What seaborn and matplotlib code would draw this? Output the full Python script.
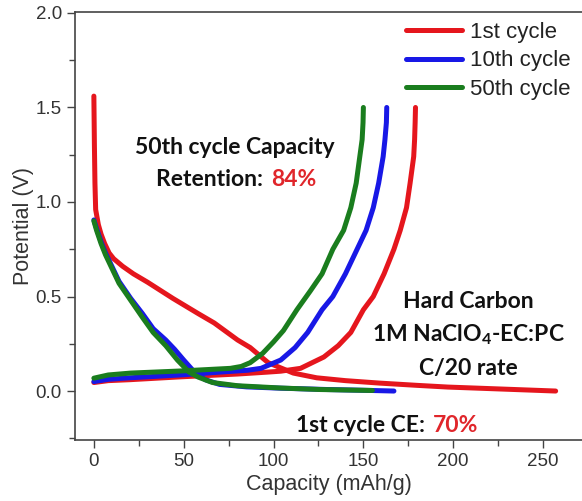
import matplotlib
matplotlib.use("Agg")
import matplotlib.pyplot as plt
from matplotlib.ticker import MultipleLocator, FormatStrFormatter
import seaborn as sns
import pandas as pd

# ---- data ----
cycles = ["1st cycle", "10th cycle", "50th cycle"]

red_dis_x = [0, 0.3, 0.6, 1, 2.5, 4, 6, 8.5, 11, 16, 22, 30, 44, 58, 67, 80, 87, 97, 111, 124, 140, 159, 180, 197, 220, 240, 257]
red_dis_y = [1.56, 1.30, 1.10, 0.96, 0.88, 0.83, 0.78, 0.73, 0.70, 0.66, 0.62, 0.575, 0.49, 0.41, 0.36, 0.27, 0.23, 0.15, 0.095, 0.07, 0.055, 0.042, 0.030, 0.021, 0.013, 0.006, 0.0]
red_chg_x = [0, 8, 20, 48, 80, 96.5, 104, 115, 128, 136, 143, 150, 155.5, 161.5, 167, 170.5, 174, 176, 178, 178.5, 178.8, 179]
red_chg_y = [0.045, 0.055, 0.06, 0.075, 0.09, 0.10, 0.105, 0.12, 0.18, 0.24, 0.31, 0.43, 0.50, 0.62, 0.75, 0.85, 0.97, 1.10, 1.24, 1.33, 1.42, 1.50]

blue_dis_x = [0, 1.5, 4, 6.5, 9.5, 14, 20.5, 27, 33, 40, 45, 50, 56, 62, 70, 85, 104, 130, 150, 167]
blue_dis_y = [0.905, 0.86, 0.79, 0.73, 0.67, 0.58, 0.49, 0.41, 0.33, 0.27, 0.22, 0.164, 0.10, 0.06, 0.035, 0.022, 0.015, 0.008, 0.004, 0.0]
blue_chg_x = [0, 8, 20, 48, 70, 85.5, 93, 98, 104, 112, 119, 127, 133, 140, 146.5, 151.5, 155.5, 158.5, 161, 162, 162.8, 163]
blue_chg_y = [0.05, 0.062, 0.07, 0.085, 0.10, 0.11, 0.12, 0.14, 0.164, 0.23, 0.31, 0.43, 0.50, 0.62, 0.75, 0.85, 0.97, 1.10, 1.24, 1.33, 1.42, 1.50]

green_dis_x = [0, 1.5, 4, 6.5, 9.5, 14, 20.5, 27, 33, 40, 46.5, 53, 58, 66, 80, 104, 126, 155]
green_dis_y = [0.90, 0.85, 0.78, 0.72, 0.66, 0.57, 0.48, 0.39, 0.31, 0.24, 0.164, 0.10, 0.074, 0.045, 0.028, 0.016, 0.008, 0.003]
green_chg_x = [0, 8, 20.5, 48, 76, 82, 87, 94, 100, 105.5, 113, 120.5, 127, 133, 139, 143, 146, 148, 149.3, 149.8, 150]
green_chg_y = [0.068, 0.085, 0.095, 0.106, 0.12, 0.13, 0.15, 0.20, 0.26, 0.32, 0.43, 0.53, 0.62, 0.75, 0.85, 0.97, 1.10, 1.24, 1.33, 1.42, 1.50]

x_ticks = [0, 50, 100, 150, 200, 250]
y_ticks = [0.0, 0.5, 1.0, 1.5, 2.0]

# ---- build the table ----
segments = [
    (cycles[0], "dis", red_dis_x, red_dis_y),
    (cycles[0], "chg", red_chg_x, red_chg_y),
    (cycles[1], "dis", blue_dis_x, blue_dis_y),
    (cycles[1], "chg", blue_chg_x, blue_chg_y),
    (cycles[2], "dis", green_dis_x, green_dis_y),
    (cycles[2], "chg", green_chg_x, green_chg_y),
]
rows = []
for cyc, seg, xs, ys in segments:
    for xv, yv in zip(xs, ys):
        rows.append({"cycle": cyc, "seg": cyc + seg, "Capacity": xv, "Potential": yv})
df = pd.DataFrame(rows)

sns.set_theme(style="ticks")
plt.rcParams["font.family"] = ["Liberation Sans", "DejaVu Sans"]

W, H = 582, 501
fig = plt.figure(figsize=(W / 100, H / 100), dpi=100)
ax = fig.add_axes([75 / W, (H - 440) / H, (W - 75) / W, (440 - 12) / H])

palette = {cycles[0]: "#e5161d", cycles[1]: "#1818e6", cycles[2]: "#1a7d1e"}
sns.lineplot(data=df, x="Capacity", y="Potential", hue="cycle", units="seg",
             estimator=None, sort=False, palette=palette, linewidth=3.6,
             ax=ax, legend=True)
for line in ax.get_lines():
    line.set_solid_capstyle("round")
    line.set_solid_joinstyle("round")

ax.set_xlim(-10.5, (582 - 93) / 1.8)
ax.set_ylim(-0.259, 2.005)
ax.set_xticks(x_ticks)
ax.set_yticks(y_ticks)
ax.xaxis.set_minor_locator(MultipleLocator(25))
ax.yaxis.set_minor_locator(MultipleLocator(0.25))
ax.yaxis.set_major_formatter(FormatStrFormatter("%.1f"))
ax.tick_params(axis="both", which="major", direction="out", length=6, width=1,
               labelsize=13.5, colors="#444444", labelcolor="#333333")
ax.tick_params(axis="both", which="minor", direction="out", length=4, width=1, colors="#444444")
for s in ["left", "bottom", "top"]:
    ax.spines[s].set_color("#444444")
    ax.spines[s].set_linewidth(1.2)
ax.spines["right"].set_visible(False)

ax.set_xlabel("Capacity (mAh/g)", fontsize=15.5, color="#333333", labelpad=3)
ax.set_ylabel("Potential (V)", fontsize=15.5, color="#333333", labelpad=1)

leg = ax.legend(loc="upper left", bbox_to_anchor=(395 / W, 1 - 11 / H),
                bbox_transform=fig.transFigure, frameon=False, fontsize=16,
                handlelength=2.5, handletextpad=0.36, labelspacing=0.33, borderpad=0)
for line in leg.get_lines():
    line.set_linewidth(3.6)
for t in leg.get_texts():
    t.set_color("#222222")

bold = dict(family=["Lato", "DejaVu Sans"], fontweight="bold", fontsize=16.5)
red = "#e0262b"
def ftext(px, py, s, **kw):
    fig.text(px / W, 1 - py / H, s, va="center", **kw)

ftext(235, 147, "50th cycle Capacity", ha="center", color="#111111", **bold)
ftext(268, 180, "Retention: ", ha="right", color="#111111", **bold)
ftext(271, 180, "84%", ha="left", color=red, **bold)
ftext(468, 302, "Hard Carbon", ha="center", color="#111111", **bold)
ftext(468, 335, "1M NaClO$_\\mathregular{4}$-EC:PC", ha="center", color="#111111", **bold)
ftext(468, 368, "C/20 rate", ha="center", color="#111111", **bold)
ftext(430, 425, "1st cycle CE: ", ha="right", color="#111111", **bold)
ftext(433, 425, "70%", ha="left", color=red, **bold)

fig.savefig("out.png", dpi=100)
